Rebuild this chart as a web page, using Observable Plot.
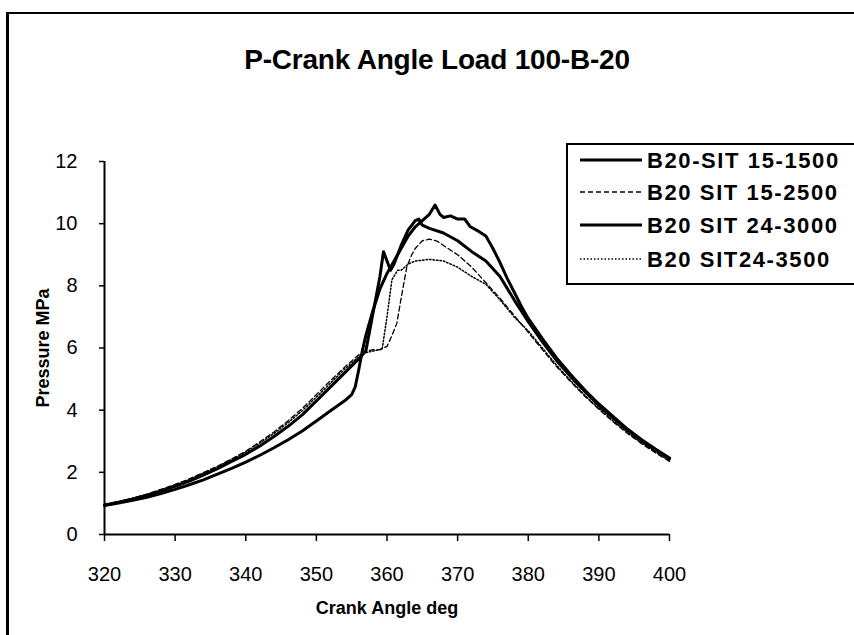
<!DOCTYPE html>
<html>
<head>
<meta charset="utf-8">
<script src="https://cdn.jsdelivr.net/npm/d3@7"></script>
<script src="https://cdn.jsdelivr.net/npm/@observablehq/plot@0.6"></script>
<style>
  html, body { margin: 0; padding: 0; background: #fff; }
  #wrap { position: relative; width: 854px; height: 635px; overflow: hidden; background: #fff; font-family: "Liberation Sans", Arial, sans-serif; }
  #frame { position: absolute; left: 6px; top: 12px; width: 900px; height: 700px; border-left: 3px solid #000; border-top: 2px solid #000; }
  #title { position: absolute; left: 0; width: 874px; top: 44px; text-align: center; font-size: 28px; font-weight: bold; color: #000; letter-spacing: -0.2px; }
  #chart { position: absolute; left: 0; top: 0; }
  #legend { position: absolute; left: 566px; top: 143px; width: 300px; height: 138px; border: 2px solid #000; background: #fff; }
</style>
</head>
<body>
<div id="wrap">
  <div id="frame"></div>
  <div id="chart"></div>
  <div id="title">P-Crank Angle Load 100-B-20</div>
  <div id="legend"></div>
</div>
<script>
// ---- Data ----
const seriesNames = ["B20-SIT 15-1500", "B20 SIT 15-2500", "B20 SIT 24-3000", "B20 SIT24-3500"];
const xTicks = [320, 330, 340, 350, 360, 370, 380, 390, 400];
const yTicks = [0, 2, 4, 6, 8, 10, 12];

// B20-SIT 15-1500
const angle1 = [320,322,324,326,328,330,332,334,336,338,340,342,344,346,348,350,352,354,356,357,358,359,359.5,360,360.5,361,362,363,364,364.5,365,366,368,370,372,374,376,378,380,382,384,386,388,390,392,394,396,398,400];
const press1 = [0.95,1.04,1.14,1.26,1.40,1.55,1.72,1.91,2.12,2.35,2.58,2.85,3.15,3.48,3.85,4.30,4.75,5.20,5.65,5.90,7.10,8.30,9.10,8.80,8.50,8.70,9.30,9.80,10.10,10.15,9.95,9.85,9.70,9.45,9.10,8.80,8.30,7.55,6.85,6.20,5.60,5.08,4.60,4.15,3.75,3.36,3.03,2.72,2.44];

// B20 SIT 15-2500
const angle2 = [320,322,324,326,328,330,332,334,336,338,340,342,344,346,348,350,352,354,356,357,358,359,360,360.7,361.4,362,362.8,363.5,364,365,366,367,368,370,372,374,376,378,380,382,384,386,388,390,392,394,396,398,400];
const press2 = [0.96,1.06,1.17,1.30,1.45,1.61,1.79,1.99,2.20,2.43,2.68,2.98,3.30,3.66,4.05,4.50,4.95,5.38,5.78,5.88,5.95,5.95,6.05,6.40,6.80,7.60,8.60,9.00,9.20,9.45,9.50,9.45,9.30,9.00,8.60,8.10,7.60,7.05,6.50,5.95,5.40,4.92,4.45,4.03,3.63,3.26,2.93,2.63,2.35];

// B20 SIT 24-3000
const angle3 = [320,322,324,326,328,330,332,334,336,338,340,342,344,346,348,350,352,354,355,355.5,356,356.5,357,358,359,360,361,362,363,364,365,366,366.8,367.5,368,369,370,371,371.8,373,374,375,376,377,378,379,380,382,384,386,388,390,392,394,396,398,400];
const press3 = [0.93,1.01,1.10,1.20,1.32,1.45,1.60,1.76,1.94,2.13,2.33,2.55,2.79,3.05,3.33,3.65,3.98,4.30,4.50,4.75,5.30,5.90,6.40,7.20,7.90,8.40,8.80,9.20,9.60,9.90,10.10,10.30,10.60,10.30,10.20,10.25,10.15,10.15,9.90,9.75,9.60,9.20,8.75,8.25,7.80,7.35,6.95,6.30,5.68,5.15,4.65,4.20,3.80,3.40,3.06,2.75,2.46];

// B20 SIT24-3500
const angle4 = [320,322,324,326,328,330,332,334,336,338,340,342,344,346,348,350,352,354,356,357,358,359,359.3,360,360.7,361.5,362,363,364,366,368,370,372,374,376,378,380,382,384,386,388,390,392,394,396,398,400];
const press4 = [0.95,1.05,1.16,1.29,1.43,1.59,1.77,1.97,2.18,2.41,2.65,2.94,3.25,3.60,3.98,4.42,4.87,5.32,5.72,5.85,5.90,5.95,5.95,7.00,8.20,8.50,8.50,8.70,8.80,8.85,8.80,8.60,8.30,8.05,7.55,7.00,6.55,6.00,5.45,4.95,4.48,4.06,3.66,3.29,2.96,2.66,2.38];

// styles per series (legend order)
const strokeWidths = [3, 1.3, 3, 1.5];
const dashes = [null, "5,3", null, "1.5,2"];

function rows(name, a, p) { return a.map((v, i) => ({series: name, angle: v, pressure: p[i]})); }
const tables = [
  rows(seriesNames[0], angle1, press1),
  rows(seriesNames[1], angle2, press2),
  rows(seriesNames[2], angle3, press3),
  rows(seriesNames[3], angle4, press4)
];

const lineMarks = tables.map((t, i) => Plot.line(t, {
  x: "angle", y: "pressure", stroke: "#000",
  strokeWidth: strokeWidths[i],
  strokeDasharray: dashes[i] || undefined,
  curve: "linear"
}));

const chart = Plot.plot({
  width: 854,
  height: 635,
  marginLeft: 104,
  marginRight: 185,
  marginTop: 161,
  marginBottom: 101,
  style: {fontFamily: "'Liberation Sans', Arial, sans-serif", fontSize: "19px", color: "#000", background: "transparent"},
  x: {domain: [320, 400], label: null},
  y: {domain: [0, 12], label: null},
  marks: [
    Plot.axisX({ticks: xTicks, tickSize: 7, tickPadding: 25, fontSize: 20, tickFormat: d => String(d), strokeWidth: 1.5}),
    Plot.axisY({ticks: yTicks, tickSize: 5, tickPadding: 22, fontSize: 20, tickFormat: d => String(d), strokeWidth: 1.5}),
    Plot.ruleX([320], {stroke: "#000", strokeWidth: 2}),
    Plot.ruleY([0], {stroke: "#000", strokeWidth: 2}),
    ...lineMarks,
    Plot.text(["Crank Angle deg"], {frameAnchor: "bottom", dy: 79, fontSize: 18, fontWeight: "bold", fill: "#000"}),
    Plot.text(["Pressure MPa"], {frameAnchor: "left", dx: -61, rotate: -90, textAnchor: "middle", fontSize: 18, fontWeight: "bold", fill: "#000"})
  ]
});
document.getElementById("chart").appendChild(chart);

// ---- Legend ----
const ns = "http://www.w3.org/2000/svg";
const lsvg = document.createElementNS(ns, "svg");
lsvg.setAttribute("width", 300);
lsvg.setAttribute("height", 138);
const rowY = [15, 47, 80, 114];
seriesNames.forEach((name, i) => {
  const ln = document.createElementNS(ns, "line");
  ln.setAttribute("x1", 12); ln.setAttribute("x2", 74);
  ln.setAttribute("y1", rowY[i]); ln.setAttribute("y2", rowY[i]);
  ln.setAttribute("stroke", "#000");
  ln.setAttribute("stroke-width", strokeWidths[i]);
  if (dashes[i]) ln.setAttribute("stroke-dasharray", dashes[i]);
  lsvg.appendChild(ln);
  const tx = document.createElementNS(ns, "text");
  tx.setAttribute("x", 79); tx.setAttribute("y", rowY[i]);
  tx.setAttribute("dy", "0.36em");
  tx.setAttribute("font-family", "'Liberation Sans', Arial, sans-serif");
  tx.setAttribute("font-size", 22);
  tx.setAttribute("font-weight", "bold");
  tx.setAttribute("letter-spacing", "1.6");
  tx.setAttribute("fill", "#000");
  tx.textContent = name;
  lsvg.appendChild(tx);
});
document.getElementById("legend").appendChild(lsvg);
</script>
</body>
</html>
